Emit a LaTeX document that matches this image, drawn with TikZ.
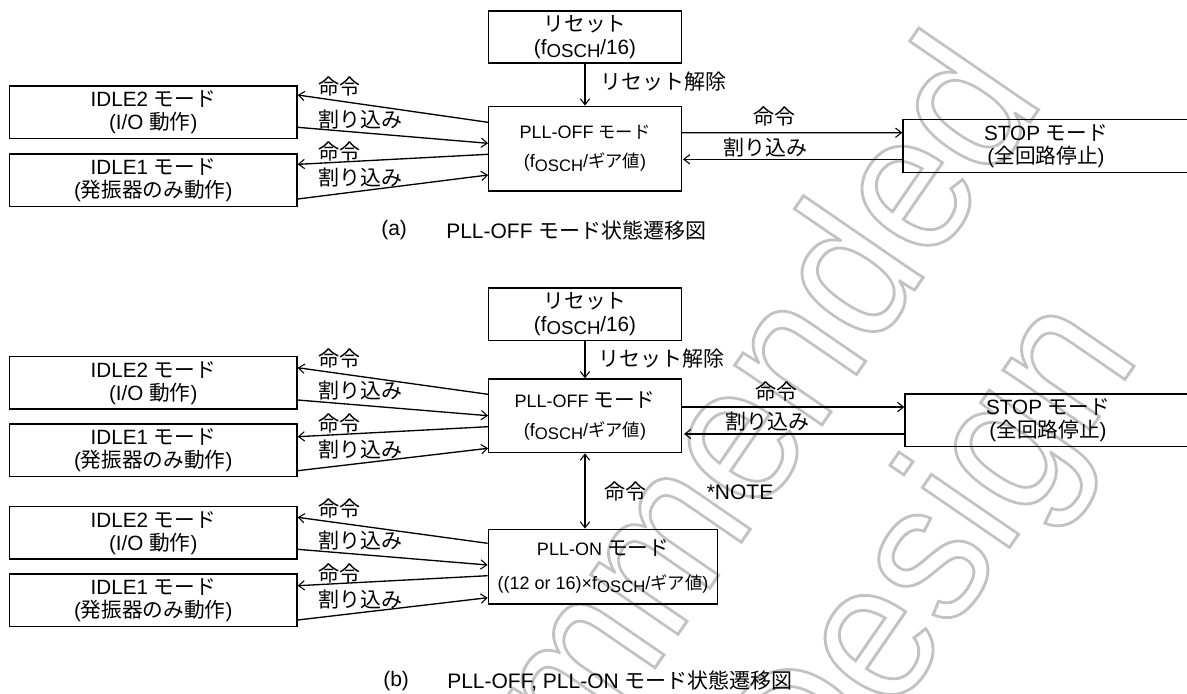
\documentclass[tikz,border=0pt]{standalone}
\usepackage{fontspec}
\setmainfont{Liberation Sans}
\newfontfamily\cjk{Noto Sans CJK JP}
\usetikzlibrary{arrows.meta}
\newcommand{\J}[1]{{\cjk #1}}
\newcommand{\JS}[1]{{\cjk\fontsize{13}{16}\selectfont #1}}
\newcommand{\OSCH}[1]{\raisebox{-2.4pt}{\fontsize{#1}{#1}\selectfont OSCH}}
\newcommand{\wmark}[1]{\special{pdf:code 1 Tr 2.2 w 0.76 G}#1\special{pdf:code 0 Tr 0 G}}
\tikzset{
  box/.style={draw=black,line width=1pt,minimum height=#1*0.75pt,inner sep=0pt,align=center,font=\fontsize{15.5}{17.25}\selectfont},
  wide/.style={minimum width=287.4*0.75pt},
  mid/.style={minimum width=192.6*0.75pt},
  lab/.style={inner sep=0pt,font=\fontsize{15.75}{18}\cjk},
  captext/.style={inner sep=0pt,font=\fontsize{15.75}{18}\selectfont,anchor=west},
  arr/.style={-{Straight Barb[length=4.5pt,width=7pt,line width=0.8pt]},line width=1pt},
  both/.style={{Straight Barb[length=4.5pt,width=7pt,line width=0.8pt]}-{Straight Barb[length=4.5pt,width=7pt,line width=0.8pt]},line width=1pt},
  wm/.style={inner sep=0pt,anchor=base east,rotate=55.5,font=\fontsize{150}{150}\selectfont}
}
\begin{document}
\begin{tikzpicture}[x=0.75pt,y=-0.75pt]
\def\u{0.75pt}
\useasboundingbox (0,0) rectangle (1187,693);
% watermark
\begin{scope}
\clip (0,0) rectangle (1187,693);
\node[wm] (wmone) at (1045.5,99.5) {\scalebox{0.915}[1]{\wmark{Recommended}}};
\node[wm] (wmtwo) at (1141,356) {\scalebox{0.915}[1]{\wmark{Design}}};
\end{scope}
% ---------- (a)
\node[box=52,mid] (reseta) at (585,37) {\J{リセット}\\(f\OSCH{14}/16)};
\node[box=84.7,mid,font=\fontsize{13.5}{21.75}\selectfont] (plla) at (585,148.6) {PLL-OFF \J{\fontsize{13}{21.75}\selectfont モード}\\(f\OSCH{12.5}/\JS{ギア値})};
\node[box=52.3,wide] (idletwoa) at (153.3,112.15) {IDLE2 \J{モード}\\(I/O \J{動作})};
\node[box=52.7,wide] (idleonea) at (153.3,180.35) {IDLE1 \J{モード}\\(\J{発振器のみ動作})};
\node[box=53,minimum width=286*0.75pt] (stopa) at (1046,145.8) {STOP \J{モード}\\(\J{全回路停止})};
\draw[arr] (reseta) -- (plla);
\draw[arr] ([yshift=26.3*\u]plla.west) -- ([yshift=17.15*\u]idletwoa.east);
\draw[arr] ([yshift=-15.15*\u]idletwoa.east) -- ([yshift=5.3*\u]plla.west);
\draw[arr] ([yshift=-5.7*\u]plla.west) -- ([yshift=16*\u]idleonea.east);
\draw[arr] ([yshift=-18.65*\u]idleonea.east) -- ([yshift=-26.4*\u]plla.west);
\draw[arr] ([yshift=15.9*\u]plla.east) -- ([yshift=13.1*\u]stopa.west);
\draw[arr] ([yshift=-13.5*\u,xshift=2*\u]stopa.west) -- ([yshift=-10.7*\u,xshift=1*\u]plla.east);
\node[lab] (la) at (339,87) {命令};
\node[lab] (lb) at (360,120) {割り込み};
\node[lab] (lc) at (339,152) {命令};
\node[lab] (ld) at (360,178) {割り込み};
\node[lab] (le) at (774,117) {命令};
\node[lab] (lf) at (765,147.7) {割り込み};
\node[lab,anchor=west] (lg) at (600,81.7) {リセット解除};
\node[captext] (capa) at (381,230) {(a)};
\node[captext] (capatext) at (446,230) {PLL-OFF \J{モード状態遷移図}};
% ---------- (b)
\node[box=52.7,mid] (resetb) at (585,314.35) {\J{リセット}\\(f\OSCH{14}/16)};
\node[box=73.7,mid,font=\fontsize{13.5}{21.5}\selectfont] (pllb) at (585,415.85) {PLL-OFF \J{\fontsize{15.5}{21.5}\selectfont モード}\\(f\OSCH{12.5}/\JS{ギア値})};
\node[box=52.3,wide] (idletwob) at (153.3,382.85) {IDLE2 \J{モード}\\(I/O \J{動作})};
\node[box=52.7,wide] (idleoneb) at (153.3,450.35) {IDLE1 \J{モード}\\(\J{発振器のみ動作})};
\node[box=52.7,minimum width=286*0.75pt] (stopb) at (1048,420.35) {STOP \J{モード}\\(\J{全回路停止})};
\node[box=52.3,wide] (idletwoc) at (153.3,532.85) {IDLE2 \J{モード}\\(I/O \J{動作})};
\node[box=52.7,wide] (idleonec) at (153.3,600.35) {IDLE1 \J{モード}\\(\J{発振器のみ動作})};
\node[box=74.7,minimum width=229.4*0.75pt,font=\fontsize{13.5}{25.5}\selectfont] (onb) at (603,566.65) {PLL-ON \J{\fontsize{15.5}{25.5}\selectfont モード}\\((12 or 16)×f\OSCH{12.5}/\JS{ギア値})};
\draw[arr] (resetb) -- (pllb);
\draw[both] (pllb.south) -- (pllb.south |- onb.north);
\draw[arr] ([yshift=21.55*\u]pllb.west) -- ([yshift=15.15*\u]idletwob.east);
\draw[arr] ([yshift=-17.15*\u]idletwob.east) -- ([yshift=0.15*\u]pllb.west);
\draw[arr] ([yshift=-10.85*\u]pllb.west) -- ([yshift=13.65*\u]idleoneb.east);
\draw[arr] ([yshift=-20.35*\u]idleoneb.east) -- ([yshift=-32.45*\u]pllb.west);
\draw[arr] ([yshift=8.85*\u]pllb.east) -- ([yshift=13.35*\u]stopb.west);
\draw[arr] ([yshift=-13.65*\u,xshift=2*\u]stopb.west) -- ([yshift=-18.15*\u,xshift=2*\u]pllb.east);
\draw[arr] ([yshift=23.35*\u]onb.west) -- ([yshift=15.55*\u]idletwoc.east);
\draw[arr] ([yshift=-16.45*\u]idletwoc.east) -- ([yshift=1.65*\u]onb.west);
\draw[arr] ([yshift=-9.05*\u]onb.west) -- ([yshift=14.65*\u]idleonec.east);
\draw[arr] ([yshift=-19.65*\u]idleonec.east) -- ([yshift=-31.05*\u]onb.west);
\node[lab] (ma) at (339,359) {命令};
\node[lab] (mb) at (360,390.7) {割り込み};
\node[lab] (mc) at (339,423.3) {命令};
\node[lab] (md) at (360,449.3) {割り込み};
\node[lab] (me) at (339,509) {命令};
\node[lab] (mf) at (360,540.7) {割り込み};
\node[lab] (mg) at (339,573.3) {命令};
\node[lab] (mh) at (360,599.3) {割り込み};
\node[lab] (mi) at (776,391.7) {命令};
\node[lab] (mj) at (767,421.7) {割り込み};
\node[lab,anchor=west] (mk) at (598,359) {リセット解除};
\node[lab] (ml) at (625,492) {命令};
\node[inner sep=0pt,font=\fontsize{15.75}{18}\selectfont] (note) at (740,492) {*NOTE};
\node[captext] (capb) at (383,681) {(b)};
\node[captext] (capbtext) at (447,681) {PLL-OFF, PLL-ON \J{モード状態遷移図}};
\end{tikzpicture}
\end{document}
